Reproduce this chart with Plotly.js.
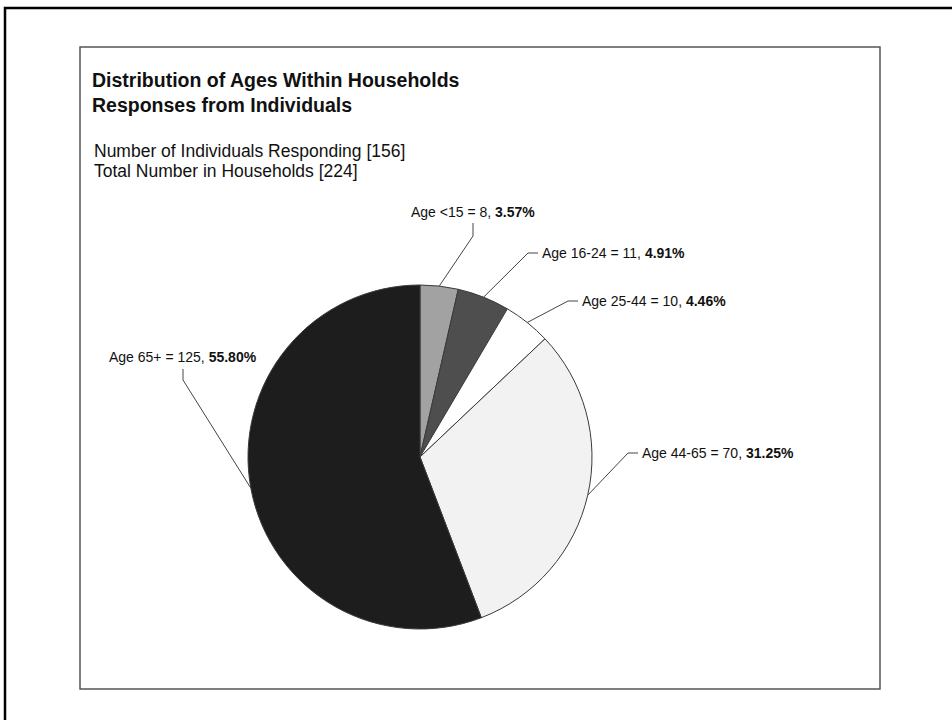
<!DOCTYPE html>
<html><head><meta charset="utf-8">
<script src="https://cdn.plot.ly/plotly-3.0.1.min.js"></script>
<style>html,body{margin:0;padding:0;background:#fff}</style>
</head><body><div id="chart" style="width:952px;height:720px"></div>
<script>
// ---- data ----
const categories = ["Age <15", "Age 16-24", "Age 25-44", "Age 44-65", "Age 65+"];
const counts = [8, 11, 10, 70, 125];
const titleLines = ["Distribution of Ages Within Households", "Responses from Individuals"];
const subtitleLines = ["Number of Individuals Responding [156]", "Total Number in Households [224]"];

// ---- styles / layout ----
const sliceColors = ["#a2a2a2", "#4e4e4e", "#ffffff", "#f2f2f2", "#1d1d1d"];
const W = 952, H = 720;
const FONT = "Liberation Sans, Arial, sans-serif";
const PIE = {cx: 420, cy: 457, r: 172};
// label placement: text anchor point, and leader start/elbow (pixels)
const labelPlacement = [
  {x: 473, y: 212, xanchor: "center", start: [473, 223], elbow: [473, 236]},
  {x: 540, y: 253, xanchor: "left", start: [538, 253], elbow: [528, 253]},
  {x: 580, y: 301, xanchor: "left", start: [578, 301], elbow: [568, 301]},
  {x: 640, y: 453, xanchor: "left", start: [638, 453], elbow: [628, 453]},
  {x: 183, y: 357, xanchor: "center", start: [183, 369], elbow: [183, 380]}
];

const px = x => x / W;
const py = y => 1 - y / H;

const total = counts.reduce((a, b) => a + b, 0);
const annotations = [];
const shapes = [];

let cum = 0;
counts.forEach((v, i) => {
  const mid = (cum + v / 2) / total;
  cum += v;
  const ang = mid * 2 * Math.PI;
  const ex = PIE.cx + PIE.r * Math.sin(ang);
  const ey = PIE.cy - PIE.r * Math.cos(ang);
  const L = labelPlacement[i];
  const pct = (v / total * 100).toFixed(2) + "%";
  annotations.push({
    xref: "paper", yref: "paper", x: px(L.x), y: py(L.y),
    xanchor: L.xanchor, yanchor: "middle", showarrow: false,
    text: categories[i] + " = " + v + ", <b>" + pct + "</b>",
    font: {family: FONT, size: 14, color: "#111"}
  });
  shapes.push({
    type: "path", xref: "paper", yref: "paper",
    path: "M " + px(L.start[0]) + "," + py(L.start[1]) +
          " L " + px(L.elbow[0]) + "," + py(L.elbow[1]) +
          " L " + px(ex) + "," + py(ey),
    line: {color: "#444", width: 1}
  });
});

subtitleLines.forEach((t, i) => {
  annotations.push({
    xref: "paper", yref: "paper", x: px(92), y: py(151 + i * 20),
    xanchor: "left", yanchor: "middle", showarrow: false, text: t,
    font: {family: FONT, size: 17.5, color: "#111"}
  });
});

// inner frame
shapes.push({type: "rect", xref: "paper", yref: "paper",
  x0: px(80), y0: py(47), x1: px(880), y1: py(689),
  line: {color: "#555", width: 1.5}, layer: "below"});
// outer border (cropped at right/bottom)
shapes.push({type: "rect", xref: "paper", yref: "paper",
  x0: px(5), y0: py(8), x1: 1.05, y1: -0.05,
  line: {color: "#000", width: 2.5}, layer: "below"});

const trace = {
  type: "pie",
  labels: categories,
  values: counts,
  sort: false,
  direction: "clockwise",
  rotation: 0,
  textinfo: "none",
  hoverinfo: "label+value+percent",
  marker: {colors: sliceColors, line: {color: "#3a3a3a", width: 1}},
  domain: {x: [px(PIE.cx - PIE.r), px(PIE.cx + PIE.r)],
           y: [py(PIE.cy + PIE.r), py(PIE.cy - PIE.r)]},
  showlegend: false
};

const layout = {
  width: W, height: H,
  margin: {l: 0, r: 0, t: 0, b: 0},
  paper_bgcolor: "#fff", plot_bgcolor: "#fff",
  title: {
    text: "<b>" + titleLines.join("<br>") + "</b>",
    x: px(92), xanchor: "left", xref: "paper",
    y: py(87), yanchor: "top", yref: "paper",
    font: {family: FONT, size: 19.5, color: "#111"}
  },
  annotations: annotations,
  shapes: shapes,
  showlegend: false
};

Plotly.newPlot("chart", [trace], layout, {staticPlot: true});
</script></body></html>
